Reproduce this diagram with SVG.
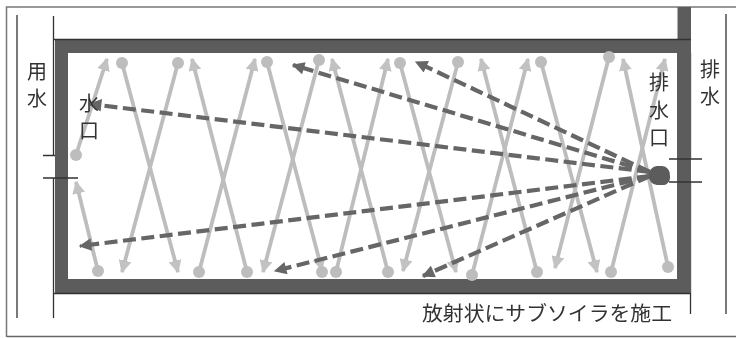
<svg xmlns="http://www.w3.org/2000/svg" width="736" height="338" viewBox="0 0 736 338">
<defs>
<marker id="la" viewBox="0 0 10 10" refX="9" refY="5" markerWidth="3.4" markerHeight="3.4" orient="auto"><path d="M0 0L10 5L0 10z" fill="#c2c2c2"/></marker>
<marker id="da" viewBox="0 0 10 10" refX="9" refY="5" markerWidth="3.2" markerHeight="3" orient="auto"><path d="M0 0L10 5L0 10z" fill="#666"/></marker>
<filter id="soft" x="-2%" y="-2%" width="104%" height="104%"><feGaussianBlur stdDeviation="0.5"/></filter>
</defs>
<style>
.thin{stroke:#333;stroke-width:1.300;fill:none}
.wall{fill:#5c5c5c}
.l{stroke:#bdbdbd;stroke-width:3.800;fill:none;marker-end:url(#la)}
.c{fill:#bdbdbd}
.d{stroke:#666;stroke-width:4.200;stroke-dasharray:13 5.500;fill:none;marker-end:url(#da)}
text{font-family:"Noto Sans CJK JP",sans-serif;font-size:20px;fill:#333}
</style>
<rect width="736" height="338" fill="#fff"/>
<g filter="url(#soft)">
<g id="frame">
<path d="M6.500 337V7H736" fill="none" stroke="#777" stroke-width="1.500"/>
<path d="M7 336.500H736" stroke="#666" stroke-width="1.500"/>
<path class="thin" d="M17 15V318M53.500 16V155M53.500 178V318M690.500 53V159M690.500 182V314M726 14V314"/>
</g>
<g id="tank">
<path class="wall" d="M55 39H691V294H55zM68 53V279H677V53z" fill-rule="evenodd"/>
<rect class="wall" x="677.500" y="7" width="13.500" height="33"/>
<path d="M53 39.500H691M53 293.500H691" stroke="#333" stroke-width="1.500"/>
<path class="thin" d="M43 155.500H55M43 178H78M669 159H702M669 182H702"/>
</g>
<g id="connectors">
<g id="light">
<path class="l" d="M76 155L107 59"/><path class="l" d="M122 63L178 272"/>
<path class="l" d="M178 63L122 272"/><path class="l" d="M247 272L192 59"/>
<path class="l" d="M199 272L255 59"/><path class="l" d="M267 62L322 270"/>
<path class="l" d="M319 60L263 272"/><path class="l" d="M388 272L332 59"/>
<path class="l" d="M336 272L388 59"/><path class="l" d="M400 63L456 272"/>
<path class="l" d="M458 62L403 271"/><path class="l" d="M537 272L481 59"/>
<path class="l" d="M472 275L528 59"/><path class="l" d="M541 62L597 272"/>
<path class="l" d="M609 57L555 268"/><path class="l" d="M668 267L623 59"/>
<path class="l" d="M611 272L665 59"/><path class="l" d="M98 271L76 182"/>
<g class="c">
<circle cx="76" cy="155" r="6"/><circle cx="122" cy="63" r="6"/><circle cx="178" cy="63" r="6"/><circle cx="267" cy="62" r="6"/><circle cx="319" cy="60" r="6"/><circle cx="400" cy="63" r="6"/><circle cx="458" cy="62" r="6"/><circle cx="541" cy="62" r="6"/><circle cx="609" cy="57" r="6"/>
<circle cx="98" cy="271" r="6"/><circle cx="199" cy="272" r="6"/><circle cx="247" cy="272" r="6"/><circle cx="322" cy="272" r="6"/><circle cx="336" cy="272" r="6"/><circle cx="388" cy="272" r="6"/><circle cx="472" cy="275" r="6"/><circle cx="537" cy="272" r="6"/><circle cx="611" cy="272" r="6"/><circle cx="668" cy="267" r="6"/>
</g>
</g>
<g id="dashed">
<path class="d" d="M650 172L90 104"/><path class="d" d="M650 172L293 65"/><path class="d" d="M650 172L416 62"/>
<path class="d" d="M650 176L80 246"/><path class="d" d="M650 176L275 271"/><path class="d" d="M650 176L423 276"/>
</g>
<path d="M649 175a8 9 0 0 1 8-9h5a8 9 0 0 1 8 10a7 8 0 0 1-8 9h-5a8 9 0 0 1-8-10z" fill="#5c5c5c"/>
</g>
<g id="labels">
<text x="27" y="79">用<tspan x="27" dy="27">水</tspan></text>
<text x="79" y="111">水<tspan x="79" dy="27">口</tspan></text>
<text x="649" y="90">排<tspan x="649" dy="28">水</tspan><tspan x="649" dy="27">口</tspan></text>
<text x="700" y="77">排<tspan x="700" dy="27">水</tspan></text>
<text x="422" y="321" textLength="250" lengthAdjust="spacingAndGlyphs">放射状にサブソイラを施工</text>
</g>
</g>
</svg>
